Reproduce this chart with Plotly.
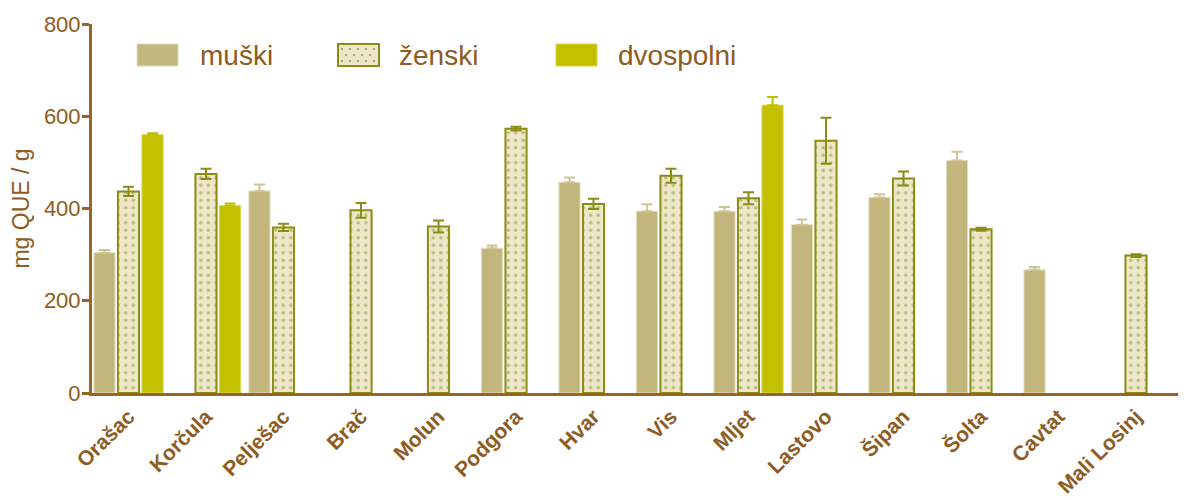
import plotly.graph_objects as go

categories = ["Orašac", "Korčula", "Pelješac", "Brač", "Molun", "Podgora", "Hvar",
              "Vis", "Mljet", "Lastovo", "Šipan", "Šolta", "Cavtat", "Mali Losinj"]

muski = [304, None, 438, None, None, 314, 457, 394, 394, 365, 424, 504, 267, None]
muski_err = [6, None, 14, None, None, 6, 10, 15, 9, 11, 7, 19, 6, None]

zenski = [437, 475, 359, 396, 361, 573, 410, 471, 422, 547, 465, 355, None, 298]
zenski_err = [10, 11, 8, 16, 13, 4, 11, 15, 13, 50, 15, 3, None, 3]

dvospolni = [560, 406, None, None, None, None, None, None, 624, None, None, None, None, None]
dvospolni_err = [3, 5, None, None, None, None, None, None, 18, None, None, None, None, None]

y_ticks = [0, 200, 400, 600, 800]
series_names = ["muški", "ženski", "dvospolni"]

BROWN = "#9A6424"
TEXT = "#8E5B22"
C_M = "#C2B67C"
C_M_ERR = "#CFC497"
C_Z = "#EDE6C8"
C_Z_LINE = "#8C8C14"
C_DOT = "#7A8A1E"
C_D = "#C3C000"

def zeros(a):
    return [0 if v is not None else None for v in a]

fig = go.Figure()
fig.add_trace(go.Bar(
    x=categories, y=muski, name=series_names[0],
    marker=dict(color=C_M, line=dict(color="#E6DFC0", width=1)),
    error_y=dict(type="data", array=muski_err, arrayminus=zeros(muski_err), symmetric=False,
                 color=C_M_ERR, thickness=2, width=5.5),
    showlegend=False))
fig.add_trace(go.Bar(
    x=categories, y=zenski, name=series_names[1],
    marker=dict(color=C_Z, line=dict(color=C_Z_LINE, width=2),
                pattern=dict(shape=".", fgcolor=C_DOT, bgcolor=C_Z, size=7.5, solidity=0.16)),
    error_y=dict(type="data", array=zenski_err, color=C_Z_LINE, thickness=2, width=5.5),
    showlegend=False))
fig.add_trace(go.Bar(
    x=categories, y=dvospolni, name=series_names[2],
    marker=dict(color=C_D, line=dict(color="#D8D64A", width=1)),
    error_y=dict(type="data", array=dvospolni_err, arrayminus=zeros(dvospolni_err), symmetric=False,
                 color=C_D, thickness=2, width=5.5),
    showlegend=False))

# the page body adds an 8px offset; compensate so the plot lands where the reference has it
OFF = 8
W, H = 1186 - OFF, 500 - OFF
ML, MR, MT, MB = 92 - OFF, 0, 24 - OFF, 107
pw, ph = W - ML - MR, H - MT - MB

def px(x):
    return (x - OFF - ML) / pw

def py(y):
    return (H - MB - (y - OFF)) / ph

shapes = []
annotations = []
legend_items = [
    (137, 200, dict(fillcolor=C_M, line=dict(color="#E6DFC0", width=1)), series_names[0]),
    (338, 399, dict(fillcolor=C_Z, line=dict(color=C_Z_LINE, width=2)), series_names[1]),
    (556, 618, dict(fillcolor=C_D, line=dict(color="#D8D64A", width=1)), series_names[2]),
]
for x0, tx, style, label in legend_items:
    shapes.append(dict(type="rect", xref="paper", yref="paper",
                       x0=px(x0), x1=px(x0 + 41), y0=py(66), y1=py(44), layer="above", **style))
    annotations.append(dict(text=label, xref="paper", yref="paper", x=px(tx - 2), y=py(55),
                            xanchor="left", yanchor="middle", showarrow=False,
                            font=dict(size=28, color=TEXT, family="Arial, Liberation Sans")))
# dots inside the ženski swatch
for r, yy in enumerate([49, 55, 61]):
    for c in range(5):
        xx = 342 + c * 8 + (4 if r % 2 else 0)
        if xx > 375:
            continue
        shapes.append(dict(type="circle", xref="paper", yref="paper",
                           x0=px(xx - 0.9), x1=px(xx + 0.9), y0=py(yy + 0.9), y1=py(yy - 0.9),
                           fillcolor=C_DOT, line=dict(width=0), layer="above"))

fig.update_layout(
    width=W, height=H,
    margin=dict(l=ML, r=MR, t=MT, b=MB, autoexpand=False),
    paper_bgcolor="white", plot_bgcolor="white",
    barmode="group", bargap=0.07, bargroupgap=0.12,
    font=dict(family="Arial, Liberation Sans", color=TEXT),
    shapes=shapes, annotations=annotations,
    xaxis=dict(range=[-0.471, 13.645], showline=True, linecolor=BROWN, linewidth=3,
               ticks="", showgrid=False, tickangle=-45, automargin=False,
               tickfont=dict(size=21, color=TEXT, family="Arial, Liberation Sans", weight="bold"),
               zeroline=False),
    yaxis=dict(range=[0, 800], tickvals=y_ticks, showline=True, linecolor=BROWN, linewidth=3,
               ticks="outside", ticklen=7, tickwidth=3, tickcolor=BROWN, showgrid=False,
               zeroline=False, tickfont=dict(size=22, color=TEXT), automargin=False,
               ticklabelstandoff=-3,
               title=dict(text="mg QUE / g", font=dict(size=23, color=TEXT), standoff=10)),
)

fig.write_html("out.html")
